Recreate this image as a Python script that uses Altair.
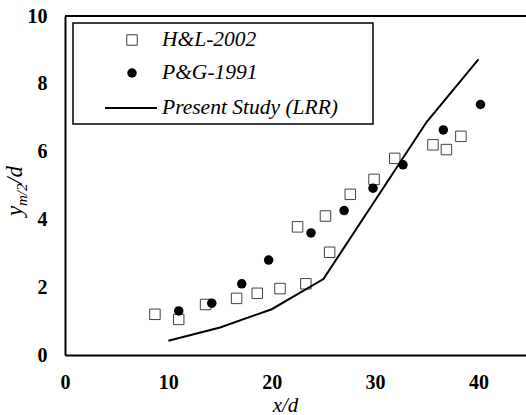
import altair as alt
import pandas as pd

# ---- data ----
hl_x = [8.7, 11.0, 13.6, 16.6, 18.6, 20.8, 23.3, 22.5, 25.6, 25.2, 27.6, 29.9, 31.9, 35.6, 36.9, 38.3]
hl_y = [1.20, 1.05, 1.49, 1.67, 1.82, 1.96, 2.10, 3.78, 3.03, 4.10, 4.74, 5.18, 5.80, 6.20, 6.06, 6.45]

pg_x = [11.0, 14.2, 17.1, 19.7, 23.8, 27.0, 29.8, 32.7, 36.6, 40.2]
pg_y = [1.30, 1.53, 2.10, 2.80, 3.60, 4.26, 4.92, 5.61, 6.64, 7.39]

ls_x = [10, 15, 20, 25, 35, 40]
ls_y = [0.42, 0.81, 1.35, 2.24, 6.88, 8.72]

legend_labels = ["H&L-2002", "P&G-1991", "Present Study (LRR)"]
x_ticks = [0, 10, 20, 30, 40]
y_ticks = [0, 2, 4, 6, 8, 10]

# ---- layout ----
W, H = 461, 339
FONT = "Liberation Serif"

xs = alt.Scale(domain=[0, 44.6], nice=False, zero=False)
ys = alt.Scale(domain=[0, 10], nice=False)

x_axis = alt.Axis(values=x_ticks, ticks=False, grid=False, domainColor="black", domainWidth=2,
                  labelFont=FONT, labelFontSize=20, labelFontWeight="bold", labelColor="black",
                  labelPadding=17, labelFlush=False,
                  title="x/d", titleFont=FONT, titleFontStyle="italic", titleFontWeight="normal",
                  titleFontSize=21, titleColor="black", titleX=220, titleY=56,
                  titleBaseline="alphabetic", titleAnchor="middle", titleAlign="center")
y_axis = alt.Axis(values=y_ticks, ticks=False, grid=False, domainColor="black", domainWidth=2,
                  labelFont=FONT, labelFontSize=20, labelFontWeight="bold", labelColor="black",
                  labelPadding=18, title=None)

hl_df = pd.DataFrame({"x": hl_x, "y": hl_y})
pg_df = pd.DataFrame({"x": pg_x, "y": pg_y})
ls_df = pd.DataFrame({"x": ls_x, "y": ls_y})
one = pd.DataFrame({"a": [0]})

squares = alt.Chart(hl_df).mark_point(shape="square", filled=True, fill="white", stroke="#404040",
                                      strokeWidth=1, size=110, opacity=1).encode(
    x=alt.X("x:Q", scale=xs, axis=x_axis),
    y=alt.Y("y:Q", scale=ys, axis=y_axis),
)
circles = alt.Chart(pg_df).mark_circle(size=90, color="black", opacity=1).encode(
    x=alt.X("x:Q", scale=xs), y=alt.Y("y:Q", scale=ys)
)
line = alt.Chart(ls_df).mark_line(color="black", strokeWidth=2).encode(
    x=alt.X("x:Q", scale=xs), y=alt.Y("y:Q", scale=ys)
)

top_border = alt.Chart(one).mark_rule(color="black", strokeWidth=2).encode(
    x=alt.value(0), x2=alt.value(W), y=alt.value(0)
)

# ---- legend ----
rows = [24, 57, 92]
leg_box = alt.Chart(one).mark_rect(fill="white", stroke="black", strokeWidth=1.5).encode(
    x=alt.value(8), x2=alt.value(308), y=alt.value(7), y2=alt.value(108)
)
leg_sq = alt.Chart(one).mark_point(shape="square", filled=True, fill="white", stroke="#404040",
                                   strokeWidth=1, size=110, opacity=1).encode(
    x=alt.value(67), y=alt.value(rows[0]))
leg_ci = alt.Chart(one).mark_circle(size=90, color="black", opacity=1).encode(
    x=alt.value(67), y=alt.value(rows[1]))
leg_ln = alt.Chart(one).mark_rule(color="black", strokeWidth=2).encode(
    x=alt.value(40), x2=alt.value(92), y=alt.value(rows[2]))
leg_txt = alt.Chart(pd.DataFrame({"label": legend_labels, "row": rows})).mark_text(
    align="left", baseline="middle", font=FONT, fontStyle="italic", fontSize=21.5, color="black"
).encode(x=alt.value(97), y=alt.Y("row:Q", scale=None), text="label:N")

# ---- y-axis title with subscript ----
yt_main1 = alt.Chart(one).mark_text(text="y", angle=270, align="left", baseline="alphabetic",
                                    font=FONT, fontStyle="italic", fontSize=23, color="black").encode(
    x=alt.value(-43), y=alt.value(200))
yt_sub = alt.Chart(one).mark_text(text="m/2", angle=270, align="left", baseline="alphabetic",
                                  font=FONT, fontStyle="italic", fontSize=15, color="black").encode(
    x=alt.value(-38), y=alt.value(190))
yt_main2 = alt.Chart(one).mark_text(text="/d", angle=270, align="left", baseline="alphabetic",
                                    font=FONT, fontStyle="italic", fontSize=23, color="black").encode(
    x=alt.value(-43), y=alt.value(168))

chart = alt.layer(
    squares, circles, line, top_border,
    leg_box, leg_sq, leg_ci, leg_ln, leg_txt,
    yt_main1, yt_sub, yt_main2,
).properties(
    width=W, height=H,
    autosize=alt.AutoSizeParams(type="none"),
    padding={"left": 65, "top": 16, "right": 0, "bottom": 60},
    background="white",
).configure_view(stroke=None)

chart.save("out.html", embed_options={"renderer": "svg", "actions": False})
